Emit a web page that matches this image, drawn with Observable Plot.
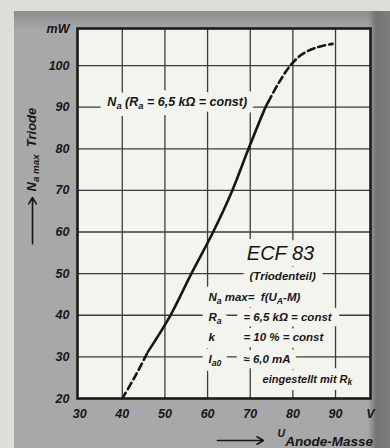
<!DOCTYPE html>
<html>
<head>
<meta charset="utf-8">
<script src="https://cdn.jsdelivr.net/npm/d3@7"></script>
<script src="https://cdn.jsdelivr.net/npm/@observablehq/plot@0.6"></script>
<style>
  html, body { margin: 0; padding: 0; background: #deded8; }
</style>
</head>
<body>
<div id="chart"></div>
<script>
// ---- data ----
const xTicks = [30, 40, 50, 60, 70, 80, 90, 98.2];
const xTickLabels = ["30", "40", "50", "60", "70", "80", "90", "V"];
const yTicks = [20, 30, 40, 50, 60, 70, 80, 90, 100, 108.9];
const yTickLabels = ["20", "30", "40", "50", "60", "70", "80", "90", "100", "mW"];
const gridXVals = [40, 50, 60, 70, 80, 90];
const gridYVals = [30, 40, 50, 60, 70, 80, 90, 100];

// curve Na max = f(U Anode-Masse): lower dashed part, solid part, upper dashed part
const lowVolts  = [40, 43, 45.4, 46];
const lowPower  = [20, 25.3, 30, 31.2];
const midVolts  = [46, 51.3, 56.2, 61.3, 65.8, 69.6, 73.6, 74.2];
const midPower  = [31.2, 40, 50, 60, 70, 80, 90, 91.2];
const highVolts = [74.2, 76.5, 79.4, 82.3, 85.8, 89.3];
const highPower = [91.2, 95.5, 100, 102.8, 104.4, 105.2];

const toPts = (xs, ys) => xs.map((v, i) => ({u: v, n: ys[i]}));
const low = toPts(lowVolts, lowPower);
const mid = toPts(midVolts, midPower);
const high = toPts(highVolts, highPower);

const ink = "#161616";
const paper = "#f4f4ef";
const font = "Liberation Sans, Arial, sans-serif";

const base = {text: d => d, fontFamily: font, fontStyle: "italic", fontWeight: "bold", fontSize: 11.5, textAnchor: "start"};
const halos = [];
const labels = [];
function ann(s, o) {
  halos.push(Plot.text([s], Object.assign({}, base, o, {fill: paper, stroke: paper, strokeWidth: 14})));
  labels.push(Plot.text([s], Object.assign({}, base, o, {fill: ink})));
}
ann("N_{a} (R_{a} = 6,5 kΩ = const)", {x: 36.5, y: 91.2, fontSize: 12.5});
ann("ECF 83", {x: 77.1, y: 54.8, textAnchor: "middle", fontSize: 20, fontWeight: "normal"});
ann("(Triodenteil)", {x: 77.6, y: 49.3, textAnchor: "middle"});
ann("N_{a} max=  f(U_{A}-M)", {x: 60.2, y: 44.3});
ann("R_{a}", {x: 60.2, y: 39.5});
ann("= 6,5 kΩ = const", {x: 68.4, y: 39.5});
ann("k", {x: 60.2, y: 34.6});
ann("= 10 % = const", {x: 68.4, y: 34.6});
ann("I_{a0}", {x: 60.2, y: 29.4});
ann("≈ 6,0 mA", {x: 68.4, y: 29.4});
ann("eingestellt mit R_{k}", {x: 72.9, y: 24.6, fontSize: 11});

const chart = Plot.plot({
  width: 390,
  height: 448,
  marginLeft: 77,
  marginRight: 20,
  marginTop: 28,
  marginBottom: 50,
  style: {
    background: "linear-gradient(to right, #deded8 0, #deded8 14px, transparent 14px), linear-gradient(to bottom, #deded8 0, #deded8 11px, transparent 11px), linear-gradient(to right, transparent 0, transparent 368px, #747474 376px, #7e7e7e 390px), linear-gradient(to bottom, #8e8e8e 12px, #a8a8a8 30px, #a8a8a8 100%)",
    fontFamily: font,
    fontStyle: "italic",
    fontWeight: "bold",
    fontSize: "12.5px",
    color: ink
  },
  x: {
    domain: [29.5, 98.2],
    ticks: xTicks,
    tickFormat: d => xTickLabels[xTicks.indexOf(d)],
    tickSize: 0,
    tickPadding: 11,
    label: null
  },
  y: {
    domain: [20, 108.9],
    ticks: yTicks,
    tickFormat: d => yTickLabels[yTicks.indexOf(d)],
    tickSize: 0,
    tickPadding: 8,
    label: null
  },
  marks: [
    Plot.frame({fill: paper}),
    Plot.ruleX(gridXVals, {stroke: "#3c3c3c", strokeWidth: 1.3}),
    Plot.ruleY(gridYVals, {stroke: "#3c3c3c", strokeWidth: 1.3}),
    ...halos,
    ...labels,
    Plot.line(low, {x: "u", y: "n", stroke: ink, strokeWidth: 2.6, strokeDasharray: "7,4", curve: "catmull-rom"}),
    Plot.line(mid, {x: "u", y: "n", stroke: ink, strokeWidth: 2.6, curve: "catmull-rom"}),
    Plot.line(high, {x: "u", y: "n", stroke: ink, strokeWidth: 2.6, strokeDasharray: "7,4", curve: "catmull-rom"}),
    Plot.frame({stroke: "#1b1b1b", strokeWidth: 2.6}),
    // axis titles with arrows
    Plot.text(["N_{a max}  Triode"], {x: 18.7, y: 79.8, text: d => d, rotate: -90, textAnchor: "middle", fill: ink, fontFamily: font, fontStyle: "italic", fontWeight: "bold", fontSize: 13}),
    Plot.arrow([0], {x1: 18.95, x2: 18.95, y1: 57.2, y2: 68.3, stroke: ink, strokeWidth: 1.6, headLength: 7}),
    Plot.arrow([0], {x1: 62.3, x2: 73.1, y1: 9.9, y2: 9.9, stroke: ink, strokeWidth: 1.6, headLength: 7}),
    Plot.text(["U"], {x: 76.4, y: 11.6, text: d => d, textAnchor: "start", fill: ink, fontFamily: font, fontStyle: "italic", fontWeight: "bold", fontSize: 10.5}),
    Plot.text(["Anode-Masse"], {x: 78.2, y: 9.6, text: d => d, textAnchor: "start", fill: ink, fontFamily: font, fontStyle: "italic", fontWeight: "bold", fontSize: 13.5})
  ]
});

// turn _{...} markup into subscript tspans
d3.select(chart).selectAll("text").each(function () {
  const t = this.textContent;
  if (!t.includes("_{")) return;
  const sel = d3.select(this);
  sel.text(null);
  const parts = t.split(/(_\{[^}]*\})/);
  let after = false;
  for (const p of parts) {
    if (!p) continue;
    if (p.startsWith("_{")) {
      sel.append("tspan").attr("dy", "0.3em").attr("font-size", "75%").text(p.slice(2, -1));
      after = true;
    } else {
      const ts = sel.append("tspan").text(p);
      if (after) ts.attr("dy", "-0.225em");
      after = false;
    }
  }
});

document.getElementById("chart").appendChild(chart);
</script>
</body>
</html>
